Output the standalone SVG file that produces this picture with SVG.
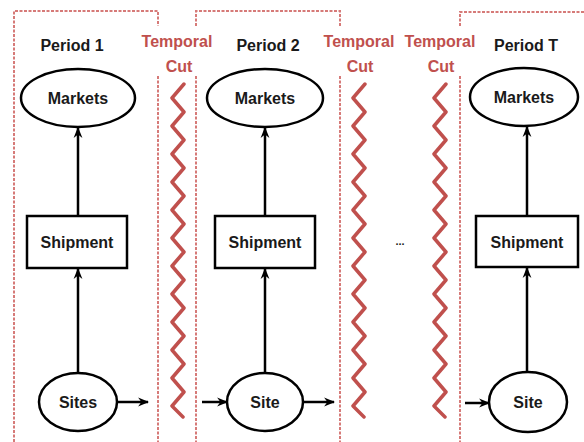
<svg xmlns="http://www.w3.org/2000/svg" width="584" height="442" viewBox="0 0 584 442">
  <style>
    .bg { fill: #ffffff; }
    .frame { fill: none; stroke: #d67a78; stroke-width: 2; stroke-dasharray: 3 1.5; }
    .cut { fill: none; stroke: #c0504d; stroke-width: 3.5; stroke-linejoin: round; stroke-linecap: round; }
    .cutlabel { font-family: "Liberation Sans", Arial, sans-serif; font-size: 16px; font-weight: bold; fill: #c0504d; text-anchor: middle; }
    .label { font-family: "Liberation Sans", Arial, sans-serif; font-size: 16px; font-weight: bold; fill: #1a1a1a; text-anchor: middle; }
    .node { fill: #ffffff; stroke: #000000; stroke-width: 2.5; }
    .edge { fill: none; stroke: #000000; stroke-width: 2.5; marker-end: url(#arrow); }
  </style>
  <defs>
    <marker id="arrow" viewBox="0 0 10 10" refX="9" refY="5" markerUnits="userSpaceOnUse" markerWidth="11" markerHeight="11" orient="auto">
      <path d="M0,1 L10,5 L0,9 L3,5 z" fill="#000000"/>
    </marker>
  </defs>

  <rect class="bg" x="0" y="0" width="584" height="442"/>

  <!-- period frames -->
  <g id="frames">
    <path class="frame" d="M14,442 V11 H158 V26 M158,76 V442"/>
    <path class="frame" d="M196,26 V11 H340 V26 M196,76 V442 M340,76 V442"/>
    <path class="frame" d="M460,26 V12 H590 M460,76 V442"/>
  </g>

  <!-- temporal cuts -->
  <g id="cut-1">
    <text class="cutlabel" x="177" y="47">Temporal</text>
    <text class="cutlabel" x="179" y="72">Cut</text>
    <polyline class="cut" points="184,84 172,98 184,112 172,126 184,140 172,154 184,168 172,182 184,196 172,210 184,224 172,238 184,252 172,266 184,280 172,294 184,308 172,322 184,336 172,350 184,364 172,378 184,392 172,406 183,417"/>
  </g>
  <g id="cut-2">
    <text class="cutlabel" x="359" y="47">Temporal</text>
    <text class="cutlabel" x="360" y="72">Cut</text>
    <polyline class="cut" points="365,84 353,98 365,112 353,126 365,140 353,154 365,168 353,182 365,196 353,210 365,224 353,238 365,252 353,266 365,280 353,294 365,308 353,322 365,336 353,350 365,364 353,378 365,392 353,406 364,417"/>
  </g>
  <g id="cut-3">
    <text class="cutlabel" x="440" y="47">Temporal</text>
    <text class="cutlabel" x="441" y="72">Cut</text>
    <polyline class="cut" points="446,84 434,98 446,112 434,126 446,140 434,154 446,168 434,182 446,196 434,210 446,224 434,238 446,252 434,266 446,280 434,294 446,308 434,322 446,336 434,350 446,364 434,378 446,392 434,406 445,417"/>
  </g>

  <!-- period titles -->
  <g id="titles">
    <text class="label" x="72" y="51">Period 1</text>
    <text class="label" x="268" y="51">Period 2</text>
    <text class="label" x="526" y="51">Period T</text>
    <text class="label" x="400" y="245" style="font-size:11px">...</text>
  </g>

  <!-- connectors -->
  <g id="connectors">
    <line class="edge" x1="78" y1="373" x2="78" y2="269"/>
    <line class="edge" x1="78" y1="216" x2="78" y2="128"/>
    <line class="edge" x1="117" y1="402" x2="148" y2="402"/>
    <line class="edge" x1="265" y1="373" x2="265" y2="269"/>
    <line class="edge" x1="265" y1="216" x2="265" y2="128"/>
    <line class="edge" x1="202" y1="402" x2="227" y2="402"/>
    <line class="edge" x1="303" y1="402" x2="334" y2="402"/>
    <line class="edge" x1="527" y1="372" x2="527" y2="268"/>
    <line class="edge" x1="527" y1="216" x2="527" y2="127"/>
    <line class="edge" x1="465" y1="403" x2="489" y2="403"/>
  </g>

  <!-- period 1 -->
  <g id="markets-1">
    <ellipse class="node" cx="78" cy="98" rx="57" ry="29"/>
    <text class="label" x="78" y="104">Markets</text>
  </g>
  <g id="shipment-1">
    <rect class="node" x="27" y="216" width="100" height="52"/>
    <text class="label" x="77" y="248">Shipment</text>
  </g>
  <g id="sites-1">
    <ellipse class="node" cx="78" cy="402" rx="39" ry="29"/>
    <text class="label" x="78" y="408">Sites</text>
  </g>

  <!-- period 2 -->
  <g id="markets-2">
    <ellipse class="node" cx="265" cy="98" rx="58" ry="29"/>
    <text class="label" x="265" y="104">Markets</text>
  </g>
  <g id="shipment-2">
    <rect class="node" x="215" y="216" width="100" height="52"/>
    <text class="label" x="265" y="248">Shipment</text>
  </g>
  <g id="site-2">
    <ellipse class="node" cx="265" cy="402" rx="38" ry="29"/>
    <text class="label" x="265" y="408">Site</text>
  </g>

  <!-- period T -->
  <g id="markets-t">
    <ellipse class="node" cx="524" cy="97" rx="54" ry="29"/>
    <text class="label" x="524" y="103">Markets</text>
  </g>
  <g id="shipment-t">
    <rect class="node" x="476" y="216" width="102" height="51"/>
    <text class="label" x="527" y="248">Shipment</text>
  </g>
  <g id="site-t">
    <ellipse class="node" cx="528" cy="402" rx="39" ry="30"/>
    <text class="label" x="528" y="408">Site</text>
  </g>
</svg>
